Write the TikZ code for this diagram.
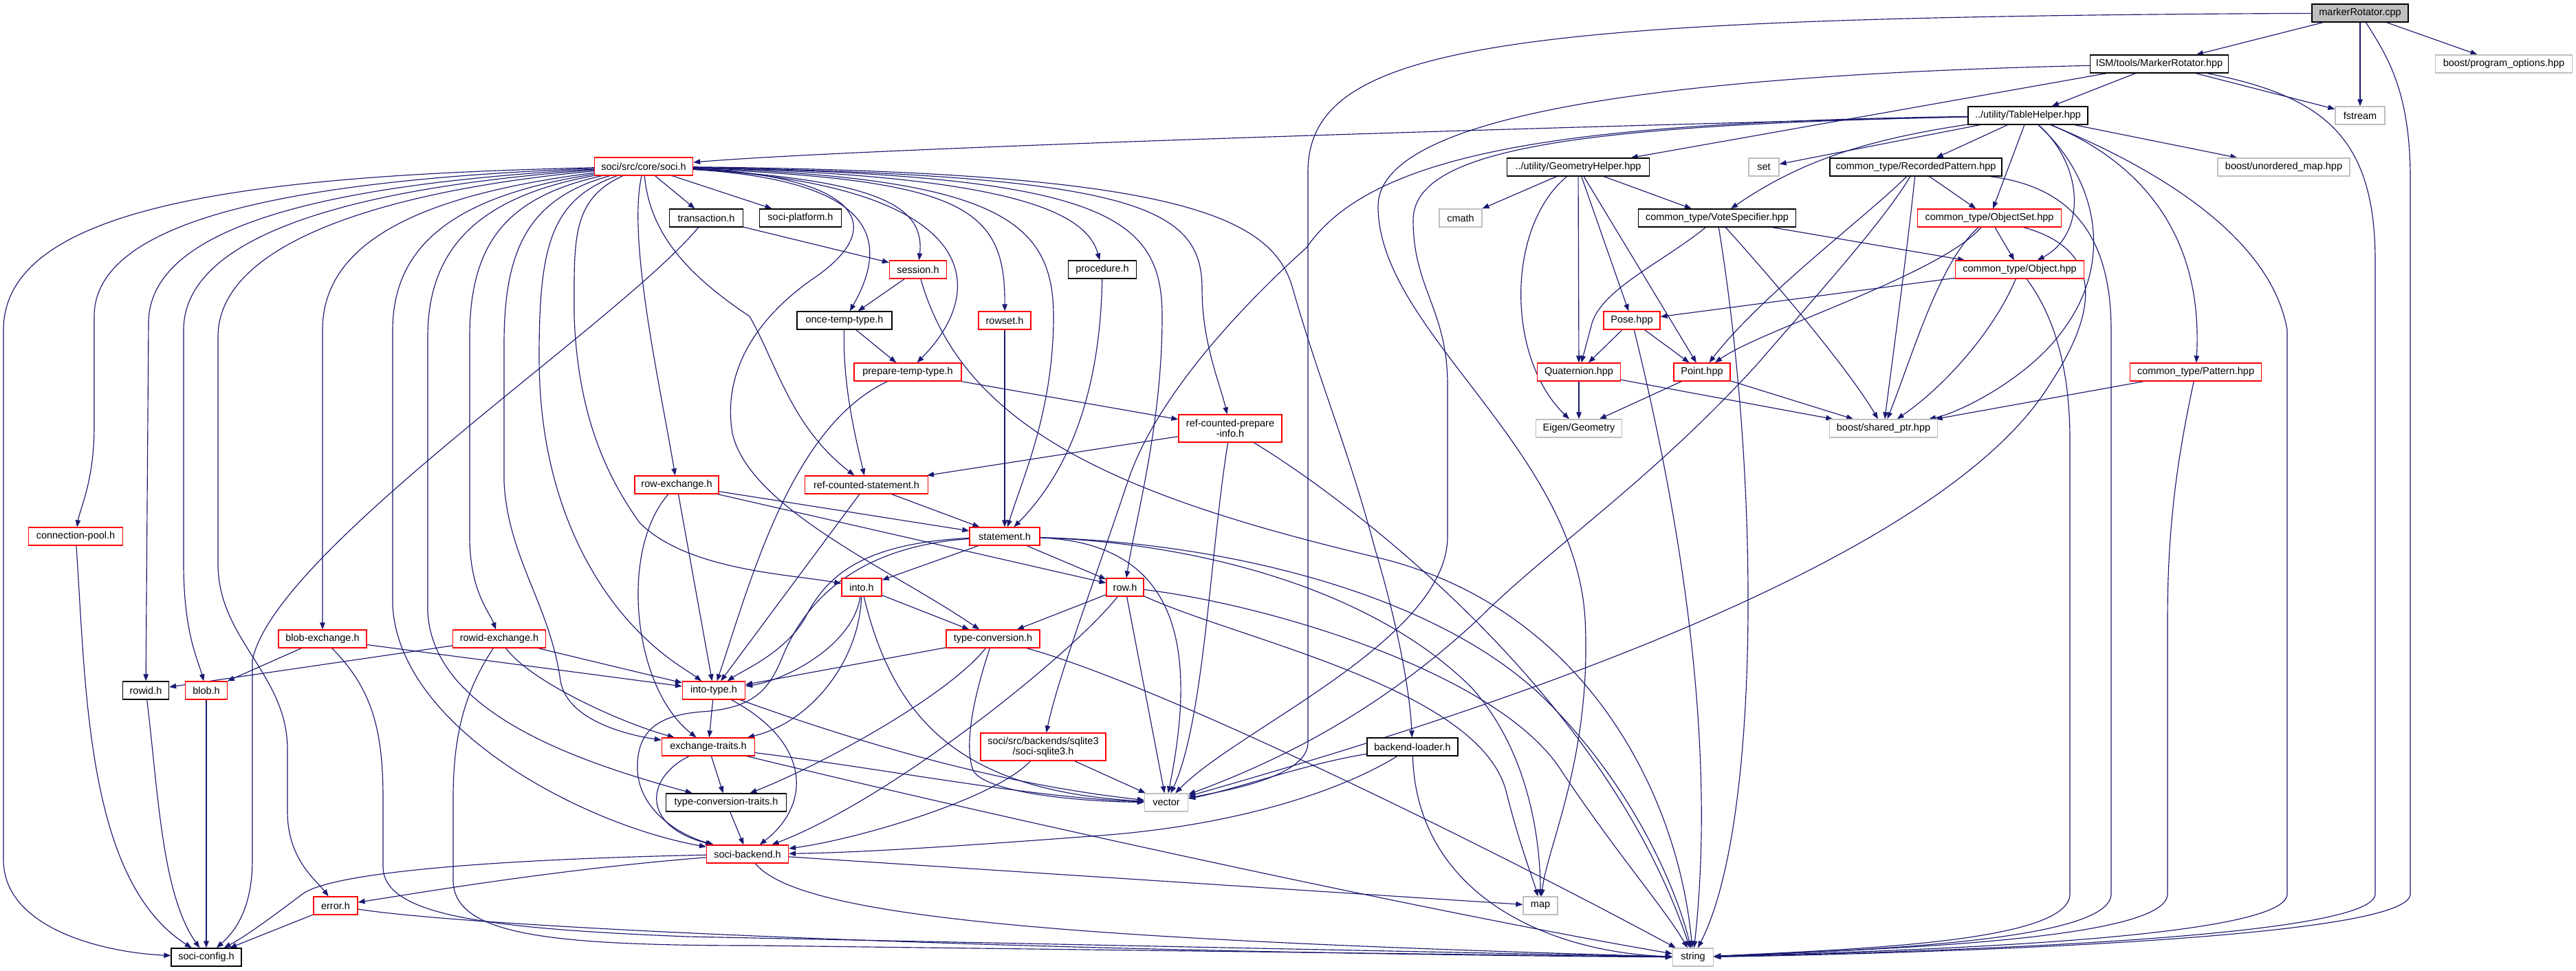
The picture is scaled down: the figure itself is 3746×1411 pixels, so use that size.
\documentclass[tikz,border=0pt]{standalone}
\usepackage{fontspec}
\setmainfont{Liberation Sans}
\usetikzlibrary{arrows.meta}
\definecolor{edgec}{HTML}{191970}
\definecolor{redb}{HTML}{FF0000}
\definecolor{grayb}{HTML}{BFBFBF}
\pgfdeclarelayer{bg}
\pgfsetlayers{bg,main}
\begin{document}
\begin{tikzpicture}[x=1pt,y=-1pt,
  nd/.style={draw, rectangle, inner sep=0pt, minimum height=26pt, line width=1.3pt, fill=white, text=black, font=\fontsize{14.5}{15.5}\selectfont},
  bk/.style={nd, draw=black},
  rd/.style={nd, draw=redb},
  gy/.style={nd, draw=grayb},
  rootbox/.style={nd, draw=black, fill=grayb},
  dep/.style={draw=edgec, line width=1.15pt, -{Triangle[length=10pt,width=7.5pt]}}]
\useasboundingbox (0,0) rectangle (3746,1411);
% ---------------- nodes ----------------
\node[rootbox, minimum width=140pt] (root) at (3432,19) {markerRotator.cpp};
\node[bk, minimum width=201pt] (mrh) at (3140,93) {ISM/tools/MarkerRotator.hpp};
\node[gy, minimum width=199pt] (progopt) at (3641,93) {boost/program\_options.hpp};
\node[gy, minimum width=72pt] (fstream) at (3432,168) {fstream};
\node[bk, minimum width=174pt] (table) at (2949,168) {../utility/TableHelper.hpp};
\node[gy, minimum width=192pt] (unordered) at (3321,243) {boost/unordered\_map.hpp};
\node[bk, minimum width=250pt] (recpat) at (2786,243) {common\_type/RecordedPattern.hpp};
\node[bk, minimum width=207pt] (geom) at (2295,243) {../utility/GeometryHelper.hpp};
\node[gy, minimum width=44pt] (set) at (2565,243) {set};
\node[gy, minimum width=62pt] (cmath) at (2124,317) {cmath};
\node[bk, minimum width=229pt] (vote) at (2497,317) {common\_type/VoteSpecifier.hpp};
\node[rd, minimum width=209pt] (objset) at (2893,317) {common\_type/ObjectSet.hpp};
\node[rd, minimum width=187pt] (object) at (2937,392) {common\_type/Object.hpp};
\node[rd, minimum width=82pt] (pose) at (2373,466) {Pose.hpp};
\node[rd, minimum width=121pt] (quat) at (2296,541) {Quaternion.hpp};
\node[rd, minimum width=82pt] (point) at (2475,541) {Point.hpp};
\node[rd, minimum width=191pt] (pattern) at (3193,541) {common\_type/Pattern.hpp};
\node[gy, minimum width=125pt] (eigen) at (2296,623) {Eigen/Geometry};
\node[gy, minimum width=157pt] (shared) at (2739,623) {boost/shared\_ptr.hpp};
\node[rd, minimum width=143pt] (soci) at (936,242) {soci/src/core/soci.h};
\node[bk, minimum width=107pt] (transaction) at (1027,317) {transaction.h};
\node[bk, minimum width=119pt] (platform) at (1164,317) {soci-platform.h};
\node[rd, minimum width=83pt] (session) at (1335,392) {session.h};
\node[bk, minimum width=99pt] (procedure) at (1603,392) {procedure.h};
\node[bk, minimum width=138pt] (oncetemp) at (1228,466) {once-temp-type.h};
\node[rd, minimum width=76pt] (rowset) at (1461,466) {rowset.h};
\node[rd, minimum width=156pt] (preptemp) at (1320,541) {prepare-temp-type.h};
\node[rd, minimum width=150pt, minimum height=40pt, align=center] (rcpi) at (1789,623) {ref-counted-prepare\\-info.h};
\node[rd, minimum width=122pt] (rowexch) at (984,705) {row-exchange.h};
\node[rd, minimum width=179pt] (rcst) at (1260,705) {ref-counted-statement.h};
\node[rd, minimum width=102pt] (statement) at (1461,780) {statement.h};
\node[rd, minimum width=137pt] (connpool) at (110,780) {connection-pool.h};
\node[rd, minimum width=58pt] (into) at (1253,854) {into.h};
\node[rd, minimum width=54pt] (row) at (1636,854) {row.h};
\node[rd, minimum width=136pt] (typeconv) at (1444,929) {type-conversion.h};
\node[rd, minimum width=128pt] (blobexch) at (469,929) {blob-exchange.h};
\node[rd, minimum width=135pt] (rowidexch) at (726,929) {rowid-exchange.h};
\node[rd, minimum width=91pt] (intotype) at (1038,1004) {into-type.h};
\node[bk, minimum width=67pt] (rowid) at (212,1004) {rowid.h};
\node[rd, minimum width=61pt] (blob) at (300,1004) {blob.h};
\node[rd, minimum width=135pt] (exch) at (1030,1086) {exchange-traits.h};
\node[rd, minimum width=182pt, minimum height=40pt, align=center] (sqlite) at (1517,1086) {soci/src/backends/sqlite3\\/soci-sqlite3.h};
\node[bk, minimum width=132pt] (bloader) at (2054,1086) {backend-loader.h};
\node[bk, minimum width=175pt] (tct) at (1056,1167) {type-conversion-traits.h};
\node[gy, minimum width=63pt] (vector) at (1696,1167) {vector};
\node[rd, minimum width=119pt] (backend) at (1087,1242) {soci-backend.h};
\node[rd, minimum width=64pt] (error) at (488,1317) {error.h};
\node[gy, minimum width=50pt] (map) at (2240,1317) {map};
\node[bk, minimum width=102pt] (config) at (300,1392) {soci-config.h};
\node[gy, minimum width=59pt] (string) at (2462,1392) {string};
% ---------------- edges ----------------
\begin{pgfonlayer}{bg}
\fill[white] (0,0) rectangle (3746,1411);
% markerRotator.cpp
\draw[dep] (root) -- (mrh);
\draw[dep] (root) .. controls (2200,25) and (1902,60) .. (1902,250) -- (1902,1080) .. controls (1902,1130) and (1780,1150) .. (vector);
\draw[dep] (root) -- (fstream);
\draw[dep] (root) .. controls (3470,80) and (3505,130) .. (3505,260) -- (3505,1300) .. controls (3505,1370) and (2700,1388) .. (string);
\draw[dep] (root) -- (progopt);
% MarkerRotator.hpp
\draw[dep] (mrh) -- (table);
\draw[dep] (mrh) -- (geom);
\draw[dep] (mrh) -- (fstream);
\draw[dep] (mrh) .. controls (3380,140) and (3454,200) .. (3454,380) -- (3454,1300) .. controls (3454,1370) and (2700,1386) .. (string);
\draw[dep] (mrh) .. controls (2400,110) and (2004,170) .. (2004,300) .. controls (2004,480) and (2290,650) .. (2305,900) .. controls (2315,1100) and (2250,1230) .. (map);
% TableHelper.hpp
\draw[dep] (table) .. controls (2500,178) and (1300,212) .. (soci);
\draw[dep] (table) .. controls (2300,178) and (2000,215) .. (1900,360) .. controls (1800,450) and (1680,580) .. (1640,700) .. controls (1590,850) and (1540,980) .. (sqlite);
\draw[dep] (table) -- (set);
\draw[dep] (table) .. controls (2700,205) and (2610,240) .. (vote);
\draw[dep] (table) -- (recpat);
\draw[dep] (table) -- (objset);
\draw[dep] (table) .. controls (3030,240) and (3035,340) .. (object);
\draw[dep] (table) -- (unordered);
\draw[dep] (table) .. controls (3100,230) and (3205,330) .. (pattern);
\draw[dep] (table) .. controls (3100,230) and (3300,330) .. (3326,480) -- (3326,1300) .. controls (3326,1370) and (2700,1384) .. (string);
\draw[dep] (table) .. controls (3050,260) and (3075,380) .. (3000,480) .. controls (2950,550) and (2850,600) .. (shared);
\draw[dep] (table) .. controls (2300,182) and (2055,215) .. (2055,320) .. controls (2055,420) and (2105,450) .. (2105,560) -- (2105,780) .. controls (2105,930) and (1800,1060) .. (vector);
% RecordedPattern.hpp
\draw[dep] (recpat) -- (objset);
\draw[dep] (recpat) .. controls (2775,350) and (2755,500) .. (shared);
\draw[dep] (recpat) .. controls (2720,310) and (2560,430) .. (point);
\draw[dep] (recpat) .. controls (2740,320) and (2650,420) .. (2555,530) .. controls (2400,700) and (2250,800) .. (2150,900) .. controls (2000,1040) and (1850,1110) .. (vector);
\draw[dep] (recpat) .. controls (3000,270) and (3070,330) .. (3070,480) -- (3070,1300) .. controls (3070,1370) and (2700,1382) .. (string);
% GeometryHelper.hpp
\draw[dep] (geom) -- (cmath);
\draw[dep] (geom) .. controls (2190,330) and (2190,520) .. (eigen);
\draw[dep] (geom) -- (quat);
\draw[dep] (geom) -- (pose);
\draw[dep] (geom) -- (point);
\draw[dep] (geom) -- (vote);
% VoteSpecifier.hpp
\draw[dep] (vote) -- (object);
\draw[dep] (vote) .. controls (2420,380) and (2330,420) .. (2315,470) -- (quat);
\draw[dep] (vote) .. controls (2560,700) and (2560,1200) .. (string);
\draw[dep] (vote) .. controls (2590,420) and (2690,540) .. (shared);
% ObjectSet.hpp
\draw[dep] (objset) -- (object);
\draw[dep] (objset) .. controls (2820,400) and (2560,480) .. (point);
\draw[dep] (objset) .. controls (2820,380) and (2780,520) .. (shared);
\draw[dep] (objset) .. controls (3050,360) and (3060,440) .. (2980,560) .. controls (2800,850) and (2000,1080) .. (vector);
% Object.hpp
\draw[dep] (object) -- (pose);
\draw[dep] (object) .. controls (2900,480) and (2830,560) .. (shared);
\draw[dep] (object) .. controls (2980,450) and (3010,520) .. (3010,640) -- (3010,1300) .. controls (3010,1370) and (2700,1380) .. (string);
% Pattern.hpp
\draw[dep] (pattern) -- (shared);
\draw[dep] (pattern) .. controls (3170,650) and (3152,750) .. (3152,900) -- (3152,1300) .. controls (3152,1370) and (2700,1381) .. (string);
% Pose / Quaternion / Point
\draw[dep] (pose) -- (quat);
\draw[dep] (pose) -- (point);
\draw[dep] (pose) .. controls (2430,700) and (2500,1050) .. (string);
\draw[dep] (quat) -- (eigen);
\draw[dep] (quat) -- (shared);
\draw[dep] (point) -- (eigen);
\draw[dep] (point) -- (shared);
% soci.h
\draw[dep] (soci) .. controls (400,255) and (5,290) .. (5,480) -- (5,1250) .. controls (5,1350) and (150,1385) .. (config);
\draw[dep] (soci) .. controls (420,262) and (137,320) .. (137,460) -- (137,620) .. controls (137,700) and (116,740) .. (connpool);
\draw[dep] (soci) .. controls (470,268) and (216,330) .. (216,470) -- (rowid);
\draw[dep] (soci) .. controls (520,272) and (267,340) .. (267,480) -- (267,820) .. controls (267,920) and (288,960) .. (blob);
\draw[dep] (soci) .. controls (570,276) and (317,350) .. (317,490) -- (317,820) .. controls (317,930) and (418,980) .. (418,1090) -- (418,1180) .. controls (418,1250) and (460,1280) .. (error);
\draw[dep] (soci) .. controls (640,280) and (469,340) .. (469,480) -- (blobexch);
\draw[dep] (soci) .. controls (680,282) and (571,345) .. (571,480) -- (571,880) .. controls (580,1060) and (850,1200) .. (backend);
\draw[dep] (soci) .. controls (710,284) and (622,350) .. (622,490) -- (622,890) .. controls (630,1040) and (850,1110) .. (tct);
\draw[dep] (soci) .. controls (740,286) and (683,350) .. (683,490) -- (683,780) .. controls (683,860) and (712,890) .. (rowidexch);
\draw[dep] (soci) .. controls (770,288) and (733,360) .. (733,500) -- (733,700) .. controls (738,810) and (800,880) .. (815,990) .. controls (825,1050) and (920,1070) .. (exch);
\draw[dep] (soci) .. controls (800,290) and (784,360) .. (784,520) .. controls (784,720) and (860,850) .. (930,920) .. controls (970,960) and (1000,975) .. (intotype);
\draw[dep] (soci) .. controls (830,290) and (835,350) .. (835,460) .. controls (840,600) and (880,690) .. (930,760) .. controls (1000,830) and (1150,835) .. (into);
\draw[dep] (soci) .. controls (912,350) and (960,560) .. (rowexch);
\draw[dep] (soci) -- (transaction);
\draw[dep] (soci) -- (platform);
\draw[dep] (soci) .. controls (945,340) and (1000,400) .. (1090,460) .. controls (1130,530) and (1150,620) .. (rcst);
\draw[dep] (soci) .. controls (1230,255) and (1300,320) .. (1190,400) .. controls (1100,460) and (1050,540) .. (1065,630) .. controls (1090,740) and (1300,830) .. (typeconv);
\draw[dep] (soci) .. controls (1260,262) and (1300,340) .. (oncetemp);
\draw[dep] (soci) .. controls (1280,262) and (1345,300) .. (session);
\draw[dep] (soci) .. controls (1430,270) and (1440,420) .. (preptemp);
\draw[dep] (soci) .. controls (1400,262) and (1462,300) .. (rowset);
\draw[dep] (soci) .. controls (1450,258) and (1532,320) .. (1532,460) .. controls (1532,600) and (1485,700) .. (statement);
\draw[dep] (soci) .. controls (1480,255) and (1580,310) .. (procedure);
\draw[dep] (soci) .. controls (1600,255) and (1690,310) .. (1690,460) .. controls (1690,620) and (1650,760) .. (row);
\draw[dep] (soci) .. controls (1650,255) and (1748,300) .. (1748,420) .. controls (1748,500) and (1775,560) .. (rcpi);
\draw[dep] (soci) .. controls (1700,250) and (1850,310) .. (1880,420) .. controls (1920,560) and (1960,650) .. (2000,800) .. controls (2030,900) and (2050,1000) .. (bloader);
% transaction.h / session.h / once-temp-type.h / prepare-temp-type.h
\draw[dep] (transaction) -- (session);
\draw[dep] (transaction) .. controls (900,470) and (400,800) .. (367,960) -- (367,1250) .. controls (367,1330) and (335,1360) .. (config);
\draw[dep] (session) -- (oncetemp);
\draw[dep] (session) .. controls (1400,620) and (1620,720) .. (2000,810) .. controls (2300,880) and (2440,1150) .. (string);
\draw[dep] (oncetemp) -- (preptemp);
\draw[dep] (oncetemp) .. controls (1225,560) and (1245,640) .. (rcst);
\draw[dep] (preptemp) -- (rcpi);
\draw[dep] (preptemp) .. controls (1150,620) and (1090,850) .. (intotype);
% ref-counted-prepare-info.h / ref-counted-statement.h
\draw[dep] (rcpi) -- (rcst);
\draw[dep] (rcpi) .. controls (1760,800) and (1751,1050) .. (vector);
\draw[dep] (rcpi) .. controls (1950,720) and (2330,1000) .. (string);
\draw[dep] (rcst) -- (statement);
\draw[dep] (rcst) -- (intotype);
\draw[dep] (procedure) .. controls (1600,560) and (1560,680) .. (statement);
\draw[dep] (rowset) -- (statement);
% row-exchange.h
\draw[dep] (rowexch) -- (statement);
\draw[dep] (rowexch) -- (row);
\draw[dep] (rowexch) -- (intotype);
\draw[dep] (rowexch) .. controls (900,800) and (920,1000) .. (exch);
% statement.h
\draw[dep] (statement) -- (into);
\draw[dep] (statement) -- (row);
\draw[dep] (statement) .. controls (1250,790) and (1200,840) .. (1170,900) .. controls (1140,950) and (1080,975) .. (intotype);
\draw[dep] (statement) .. controls (1240,795) and (1170,880) .. (1140,950) .. controls (1120,1000) and (1100,1030) .. (1020,1035) .. controls (960,1040) and (925,1060) .. (927,1120) .. controls (930,1180) and (990,1215) .. (backend);
\draw[dep] (statement) .. controls (1720,790) and (1740,950) .. (vector);
\draw[dep] (statement) .. controls (1750,790) and (2000,860) .. (2140,1000) .. controls (2230,1100) and (2240,1240) .. (map);
\draw[dep] (statement) .. controls (1800,790) and (2100,870) .. (2250,1020) .. controls (2380,1150) and (2440,1300) .. (string);
% into.h
\draw[dep] (into) .. controls (1240,940) and (1140,990) .. (intotype);
\draw[dep] (into) -- (typeconv);
\draw[dep] (into) .. controls (1250,960) and (1180,1050) .. (exch);
\draw[dep] (into) .. controls (1300,1050) and (1400,1150) .. (vector);
% row.h
\draw[dep] (row) -- (typeconv);
\draw[dep] (row) .. controls (1560,950) and (1300,1160) .. (backend);
\draw[dep] (row) -- (vector);
\draw[dep] (row) .. controls (1800,930) and (2150,1000) .. (2190,1150) .. controls (2210,1230) and (2230,1280) .. (map);
\draw[dep] (row) .. controls (1850,880) and (2180,980) .. (2270,1120) .. controls (2350,1240) and (2420,1320) .. (string);
% type-conversion.h
\draw[dep] (typeconv) -- (intotype);
\draw[dep] (typeconv) .. controls (1380,1010) and (1200,1110) .. (tct);
\draw[dep] (typeconv) .. controls (1420,1000) and (1400,1080) .. (1415,1120) .. controls (1430,1150) and (1550,1165) .. (vector);
\draw[dep] (typeconv) .. controls (1700,1000) and (2200,1250) .. (string);
% into-type.h
\draw[dep] (intotype) -- (exch);
\draw[dep] (intotype) .. controls (1180,1080) and (1180,1170) .. (backend);
\draw[dep] (intotype) .. controls (1250,1080) and (1450,1140) .. (vector);
% exchange-traits.h
\draw[dep] (exch) -- (tct);
\draw[dep] (exch) .. controls (940,1130) and (930,1200) .. (backend);
\draw[dep] (exch) .. controls (1300,1120) and (1500,1160) .. (vector);
\draw[dep] (exch) .. controls (1500,1200) and (2100,1330) .. (string);
\draw[dep] (tct) -- (backend);
% soci-sqlite3.h / backend-loader.h
\draw[dep] (sqlite) .. controls (1450,1160) and (1250,1220) .. (backend);
\draw[dep] (sqlite) -- (vector);
\draw[dep] (bloader) .. controls (1900,1110) and (1790,1150) .. (vector);
\draw[dep] (bloader) .. controls (1950,1150) and (1800,1200) .. (1600,1215) .. controls (1400,1230) and (1250,1240) .. (backend);
\draw[dep] (bloader) .. controls (2060,1300) and (2250,1385) .. (string);
% blob-exchange.h / rowid-exchange.h
\draw[dep] (blobexch) -- (blob);
\draw[dep] (blobexch) -- (intotype);
\draw[dep] (blobexch) .. controls (540,1000) and (557,1060) .. (557,1160) -- (557,1260) .. controls (557,1330) and (700,1350) .. (1000,1362) -- (string);
\draw[dep] (rowidexch) -- (rowid);
\draw[dep] (rowidexch) -- (intotype);
\draw[dep] (rowidexch) .. controls (770,990) and (900,1050) .. (exch);
\draw[dep] (rowidexch) .. controls (680,1000) and (659,1060) .. (659,1160) -- (659,1280) .. controls (659,1360) and (800,1375) .. (1100,1375) -- (string);
% soci-backend.h / error.h
\draw[dep] (backend) .. controls (700,1250) and (480,1270) .. (440,1300) .. controls (400,1330) and (360,1360) .. (config);
\draw[dep] (backend) .. controls (800,1265) and (600,1300) .. (error);
\draw[dep] (backend) -- (map);
\draw[dep] (backend) .. controls (1160,1330) and (1500,1365) .. (string);
\draw[dep] (error) -- (config);
\draw[dep] (error) .. controls (700,1350) and (1500,1385) .. (string);
% leaves to soci-config.h
\draw[dep] (connpool) .. controls (125,1000) and (125,1280) .. (config);
\draw[dep] (rowid) .. controls (230,1150) and (235,1300) .. (config);
\draw[dep] (blob) -- (config);
\end{pgfonlayer}
\end{tikzpicture}
\end{document}
